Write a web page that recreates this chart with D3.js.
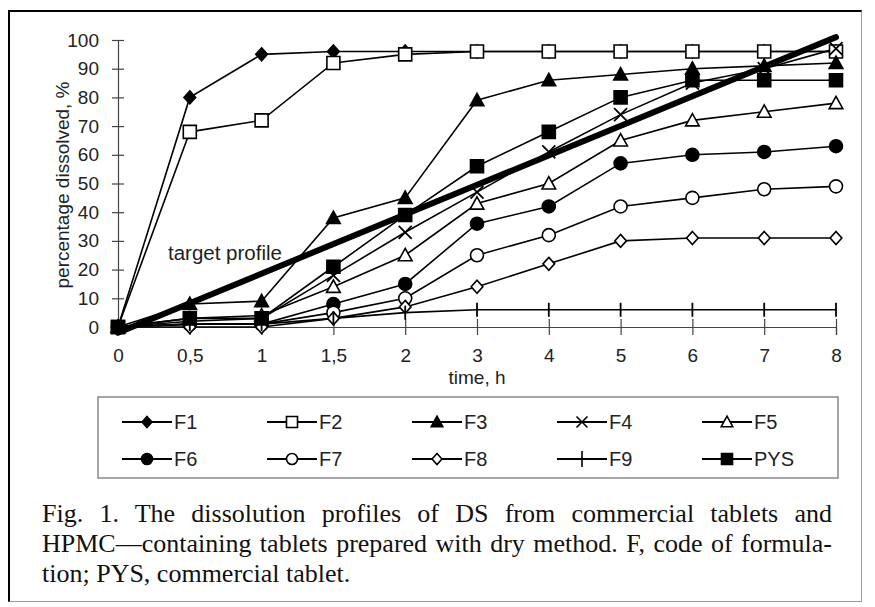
<!DOCTYPE html>
<html>
<head>
  <meta charset="utf-8">
  <title>dissolution-profiles</title>
  <style>
    * { padding: 0; margin: 0; }
    html, body { width: 875px; height: 607px; background: #fff; overflow: hidden; }
    #frame {
      position: absolute;
      left: 8px; top: 10px;
      width: 854px; height: 592px;
      border-left: 2px solid #000;
      border-top: 2px solid #000;
      border-right: 1px solid #999;
      border-bottom: 1px solid #999;
      box-sizing: border-box;
    }
    #svg { position: absolute; left: 0; top: 0; }
    #caption {
      position: absolute;
      left: 42px; top: 499px;
      width: 790px;
      font-family: "Liberation Serif", "Times New Roman", serif;
      font-size: 26px;
      line-height: 30px;
      color: #111;
    }
    #caption div { white-space: nowrap; }
    #caption .j { text-align: justify; text-align-last: justify; white-space: normal; }
  </style>
</head>
<body>
  <div id="frame"></div>
  <svg id="svg"></svg>
  <div id="caption">
    <div class="j">Fig. 1. The dissolution profiles of DS from commercial tablets and</div>
    <div class="j">HPMC—containing tablets prepared with dry method. F, code of formula-</div>
    <div>tion; PYS, commercial tablet.</div>
  </div>
  <script src="https://cdnjs.cloudflare.com/ajax/libs/d3/7.8.5/d3.min.js"></script>
  <script>
    // time points (categorical, evenly spaced on the axis)
    const times = ['0', '0,5', '1', '1,5', '2', '3', '4', '5', '6', '7', '8'];
    const yTicks = [0, 10, 20, 30, 40, 50, 60, 70, 80, 90, 100];

    const F1 = [0, 80, 95, 96, 96, 96, 96, 96, 96, 96, 96];
    const F2 = [0, 68, 72, 92, 95, 96, 96, 96, 96, 96, 96];
    const F3 = [0, 8, 9, 38, 45, 79, 86, 88, 90, 91, 92];
    const F4 = [0, 2, 3, 18, 33, 47, 61, 74, 85, 90, 97];
    const F5 = [0, 3, 4, 14, 25, 43, 50, 65, 72, 75, 78];
    const F6 = [0, 1, 1, 8, 15, 36, 42, 57, 60, 61, 63];
    const F7 = [0, 1, 1, 5, 10, 25, 32, 42, 45, 48, 49];
    const F8 = [0, 0, 0, 3, 7, 14, 22, 30, 31, 31, 31];
    const F9 = [0, 1, 1, 3, 5, 6, 6, 6, 6, 6, 6];
    const PYS = [0, 3, 3, 21, 39, 56, 68, 80, 86, 86, 86];

    // target profile: straight line from first to last time point
    const targetTimes = ['0', '8'];
    const targetValues = [-2, 101];

    const seriesNames = ['F1', 'F2', 'F3', 'F4', 'F5', 'F6', 'F7', 'F8', 'F9', 'PYS'];
    const seriesValues = [F1, F2, F3, F4, F5, F6, F7, F8, F9, PYS];
    const seriesMarkers = ['diamond', 'squareOpen', 'triangle', 'x', 'triangleOpen',
      'circle', 'circleOpen', 'diamondOpen', 'plus', 'square'];

    const width = 875, height = 607;
    const svg = d3.select('#svg').attr('width', width).attr('height', height);

    const x = d3.scalePoint().domain(times).range([118, 836]);
    const y = d3.scaleLinear().domain([0, 100]).range([327, 40]);

    const font = '"Liberation Sans", Arial, sans-serif';

    // marker path builders, s = half size
    function markerPath(type, s) {
      switch (type) {
        case 'diamond':
        case 'diamondOpen':
          return `M0,${-s}L${s * 0.9},0L0,${s}L${-s * 0.9},0Z`;
        case 'square':
        case 'squareOpen':
          return `M${-s},${-s}H${s}V${s}H${-s}Z`;
        case 'triangle':
        case 'triangleOpen':
          return `M0,${-s * 1.05}L${s * 1.05},${s * 0.85}L${-s * 1.05},${s * 0.85}Z`;
        case 'circle':
        case 'circleOpen':
          return `M${s},0A${s},${s} 0 1,1 ${-s},0A${s},${s} 0 1,1 ${s},0Z`;
        case 'x':
          return `M${-s},${-s}L${s},${s}M${-s},${s}L${s},${-s}`;
        case 'plus':
          return `M0,${-s}V${s}`;
      }
    }
    const isOpen = t => t.endsWith('Open');
    const isStroke = t => t === 'x' || t === 'plus';

    // axes
    const yAxis = d3.axisLeft(y).tickValues(yTicks).tickSize(6).tickPadding(13);
    const gy = svg.append('g').attr('transform', 'translate(118,0)').call(yAxis);
    gy.select('.domain').attr('stroke', '#444').attr('stroke-width', 1.2);
    gy.selectAll('.tick line').attr('x1', 6).attr('x2', -6).attr('stroke', '#444').attr('stroke-width', 1.2);
    gy.selectAll('.tick text').attr('font-family', font).attr('font-size', 19).attr('fill', '#222');

    const xAxis = d3.axisBottom(x).tickSize(8).tickPadding(14);
    const gx = svg.append('g').attr('transform', 'translate(0,327)').call(xAxis);
    gx.select('.domain').attr('stroke', '#444').attr('stroke-width', 1.2);
    gx.selectAll('.tick line').attr('y1', -8).attr('y2', 8).attr('stroke', '#444').attr('stroke-width', 1.2);
    gx.selectAll('.tick text').attr('font-family', font).attr('font-size', 19).attr('fill', '#222');

    svg.append('text')
      .attr('x', 477).attr('y', 384)
      .attr('text-anchor', 'middle')
      .attr('font-family', font).attr('font-size', 19).attr('fill', '#222')
      .text('time, h');

    svg.append('text')
      .attr('transform', 'translate(69,185) rotate(-90)')
      .attr('text-anchor', 'middle')
      .attr('font-family', font).attr('font-size', 19).attr('fill', '#222')
      .text('percentage dissolved, %');

    // series lines
    const line = d3.line().x((d, i) => x(times[i])).y(d => y(d));
    const plot = svg.append('g');
    seriesValues.forEach(vals => {
      plot.append('path')
        .attr('d', line(vals))
        .attr('fill', 'none')
        .attr('stroke', '#000')
        .attr('stroke-width', 1.6);
    });

    // series markers
    seriesValues.forEach((vals, k) => {
      const type = seriesMarkers[k];
      const s = type === 'plus' ? 7 : 6.5;
      plot.append('g').selectAll('path')
        .data(vals).enter()
        .append('path')
        .attr('transform', (d, i) => `translate(${x(times[i])},${y(d)})`)
        .attr('d', markerPath(type, s))
        .attr('fill', isStroke(type) ? 'none' : (isOpen(type) ? '#fff' : '#000'))
        .attr('stroke', '#000')
        .attr('stroke-width', isStroke(type) ? 1.8 : 1.6);
    });

    // target profile
    const tline = d3.line().x((d, i) => x(targetTimes[i])).y(d => y(d));
    plot.append('path')
      .attr('d', tline(targetValues))
      .attr('fill', 'none')
      .attr('stroke', '#000')
      .attr('stroke-width', 6)
      .attr('stroke-linecap', 'round');

    svg.append('text')
      .attr('x', 168).attr('y', 260)
      .attr('font-family', font).attr('font-size', 20.5).attr('fill', '#222')
      .text('target profile');

    // legend
    const legend = svg.append('g');
    legend.append('rect')
      .attr('x', 98).attr('y', 397).attr('width', 740).attr('height', 81)
      .attr('fill', 'none').attr('stroke', '#888').attr('stroke-width', 1.5);

    const item = legend.selectAll('g.item')
      .data(seriesNames).enter()
      .append('g')
      .attr('class', 'item')
      .attr('transform', (d, i) => `translate(${122 + (i % 5) * 145},${i < 5 ? 422 : 459})`);
    item.append('line')
      .attr('x1', 0).attr('x2', 50).attr('stroke', '#000').attr('stroke-width', 1.8);
    item.append('path')
      .attr('transform', 'translate(25,0)')
      .attr('d', (d, i) => markerPath(seriesMarkers[i], seriesMarkers[i] === 'plus' ? 8 : 5.5))
      .attr('fill', (d, i) => isStroke(seriesMarkers[i]) ? 'none' : (isOpen(seriesMarkers[i]) ? '#fff' : '#000'))
      .attr('stroke', '#000').attr('stroke-width', 1.6);
    item.append('text')
      .attr('x', 52).attr('dy', '0.36em')
      .attr('font-family', font).attr('font-size', 20).attr('fill', '#222')
      .text(d => d);
  </script>
</body>
</html>
